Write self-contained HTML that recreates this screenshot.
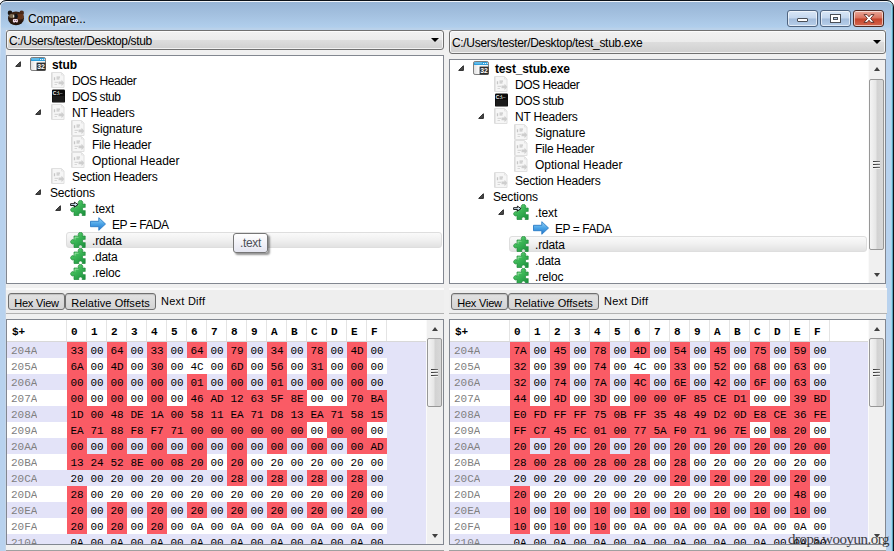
<!DOCTYPE html>
<html lang="en"><head><meta charset="utf-8"><title>Compare...</title>
<style>
html,body{margin:0;padding:0}
*{box-sizing:border-box}
body{width:894px;height:551px;overflow:hidden;background:#fff;font-family:"Liberation Sans",sans-serif;font-size:12px;color:#000}
#win{position:absolute;left:0;top:0;width:894px;height:551px;overflow:hidden}
/* window frame: dark left border is cropped (x=-1), dark right border at x=893 */
#frame{position:absolute;left:-1px;top:0;width:895px;height:600px;border:1px solid #0b1118;border-radius:7px 7px 0 0;
  background:linear-gradient(#97b5d6 1px,#a3c0df 13px,#b0ceec 26px,#bcd2e9 28px,#b8d2ee 29px);
  box-shadow:inset 0 1px 0 rgba(255,255,255,.85),inset -1px 0 0 rgba(70,140,170,.75),inset -2px 0 0 rgba(150,215,235,.9)}
#frame:before{content:"";position:absolute;left:0;top:4px;width:1px;height:60px;background:linear-gradient(rgba(255,255,255,.75),rgba(255,255,255,.45) 50%,rgba(255,255,255,0))}
#frame:after{content:"";position:absolute;left:5px;top:30px;width:1px;height:600px;background:#c4d5e9}
#titlebar{position:absolute;left:0;top:0;width:894px;height:30px}
#bear{position:absolute;left:7px;top:10px}
#title{position:absolute;left:28px;top:12px;font-size:12px;line-height:14px;color:#000;text-shadow:0 0 6px #fff,0 0 6px #fff}
.cb{position:absolute;top:10px;height:17px;border:1px solid #4f6480;border-radius:3px;box-shadow:inset 0 0 0 1px rgba(255,255,255,.6);
  background:linear-gradient(#d9e7f7 0,#c4d7ee 48%,#a3bcdb 52%,#b7cfea 100%)}
.cb.min{left:787px;width:31px}
.cb.max{left:820px;width:31px}
.cb.cls{left:853px;width:31px;border-color:#4b2822;background:linear-gradient(#e9a99b 0,#d9715c 48%,#c4422a 52%,#d4674f 100%)}
.cb.min i{position:absolute;left:9px;top:7px;width:11px;height:4px;background:#fff;border:1px solid #4a4f57;border-radius:1px}
.cb.max i{position:absolute;left:10px;top:4px;width:9px;height:7px;background:transparent;border:2px solid #fff;outline:1px solid #4a4f57;box-shadow:inset 0 0 0 1px #4a4f57}
.cb.cls svg{position:absolute;left:8.5px;top:3px}
/* client: abs (6,30) .. (886,551) */
#client{position:absolute;left:6px;top:30px;width:880px;height:530px;background:#f0f0f0}
.combo{position:absolute;top:0;height:20px;border:1px solid #707070;border-radius:3px;background:linear-gradient(#f2f2f2 0,#ebebeb 50%,#dddddd 51%,#cfcfcf 100%);box-shadow:inset 0 0 0 1px rgba(255,255,255,.7)}
.combo.cl{left:0;width:438px}
.combo.cr{left:443px;width:437px;height:24px}
.ct{position:absolute;left:2px;top:3px;line-height:15px;white-space:nowrap}
.cr .ct{top:5px}
.da{position:absolute;right:4px;top:7px;width:0;height:0;border:4px solid transparent;border-top:4px solid #000;border-bottom:0}
.cr .da{top:9px}
.tree{position:absolute;background:#fff;border:1px solid #828790;overflow:hidden}
.tree.tl{left:0;top:25px;width:438px;height:229px}
.tree.trr{left:443px;top:29px;width:437px;height:225px}
.tr{position:absolute;left:0;width:100%;height:16px}
.tr span{position:absolute;top:0}
.tt{line-height:16px;white-space:nowrap;top:1px !important}
.tt.b{font-weight:bold}
.ic{display:block}
.exw{top:5px !important}
.ex{display:block}
.selbg{position:absolute;top:0;height:16px;right:1px;border:1px solid #dedede;border-radius:3px;background:linear-gradient(#fafafa,#f0f0f0 50%,#e2e2e2)}
.trr .selbg{right:18px}
.tip{position:absolute;left:227px;top:203px;width:35px;height:20px;border:1px solid #767676;border-radius:3px;background:linear-gradient(#fff,#e4e5f0);color:#4d5058;line-height:18px;text-align:center;letter-spacing:-.35px;box-shadow:2px 2px 2px rgba(0,0,0,.42)}
/* scrollbars */
.tvsb,.vsb{position:absolute;width:17px;background:#f0f0f0;border-left:1px solid #fafafa}
.tvsb{left:862px;top:30px;height:223px}
.up,.dn{position:absolute;left:-1px;width:17px;height:17px}
.up{top:0}.dn{bottom:0}
.up:after,.dn:after{content:"";position:absolute;left:6px;width:0;height:0;border:3.5px solid transparent}
.up:after{top:7px;border-bottom:4px solid #404040;border-top:0}
.dn:after{bottom:6px;border-top:4px solid #404040;border-bottom:0}
.thumb{position:absolute;left:0;width:15px;border:1px solid #979797;border-radius:2px;background:linear-gradient(90deg,#f4f4f4 0,#e6e6e6 45%,#d2d2d2 55%,#d8d8d8 100%)}
.thumb i{position:absolute;left:3px;width:7px;height:1.5px;background:linear-gradient(90deg,#333,#777);box-shadow:0 1px 0 #f4f4f4}
.thumb i:nth-child(2){margin-top:3px}.thumb i:nth-child(3){margin-top:6px}.thumb i:nth-child(4){display:none}
.tbar{position:absolute;top:258px;height:26px;width:438px;background:#eeeeee;border-top:2px solid #fbfbfb;border-bottom:1px solid #b2b2b2}
.tb1{left:0}.tb2{left:443px}
.btn{position:absolute;top:3px;height:17px;font-size:11px;border:1px solid #6f6f6f;border-radius:3px;background:linear-gradient(#e2e2e2,#d4d4d4);line-height:17px;padding-top:1px;text-align:center;white-space:nowrap;box-shadow:inset 0 1px 1px rgba(0,0,0,.15)}
.lbl{position:absolute;top:4px;font-size:11px;line-height:15px;white-space:nowrap}
.hexp{position:absolute;top:289px;height:226px;background:#e3e3f8;border:1px solid #828790;overflow:hidden;font-family:"Liberation Mono",monospace;font-size:11px}
.hexp.hl{left:0;width:438px}
.hexp.hrr{left:443px;width:437px}
.hh{position:absolute;left:0;top:0;height:22px;width:100%;background:#fff;border-bottom:1px solid #d8d8d8}
.hh span{position:absolute;top:0;height:21px;line-height:24px;font-weight:bold;border-right:1px solid #e4e4e4}
.hc0{left:0;width:60px;padding-left:5px}
.hc{width:20px;text-align:left;padding-left:4px}
.hlast{left:380px;width:40px}
.hr{position:absolute;left:0;height:16px;width:100%;background:#fff}
.hr.alt{background:#e3e3f8}
.hr span{position:absolute;top:0;height:16px;line-height:18px;overflow:hidden}
.ad{left:4px;color:#808080}
.b{width:20px;text-align:center}
.b.r{background:#fa5b65}
.tail{left:380px;right:0;background:#e3e3f8}
.vsb{right:0;top:0;height:224px}
.hexp .thumb{top:18px;height:69px}
.hexp .thumb i{top:29.500px}
.tvsb .thumb{top:19px;height:171px}
.tvsb .thumb i{top:80.500px}
.botline{position:absolute;top:520px;height:10px;border:1px solid #a0a0a0;background:#fff}
.bl1{left:0;width:438px}.bl2{left:443px;width:437px}
#wm{position:absolute;left:788px;top:529px;font-family:"Liberation Serif",serif;font-size:15px;letter-spacing:-.5px;line-height:20px;color:#1a1a1a;opacity:.85;white-space:nowrap}

</style></head>
<body>
<svg width="0" height="0" style="position:absolute" aria-hidden="true"><defs><linearGradient id="eg" x1="0" y1="0" x2="1" y2="0"><stop offset="0" stop-color="#dedede"/><stop offset=".35" stop-color="#fafafa"/><stop offset="1" stop-color="#f0f0f0"/></linearGradient><linearGradient id="pg" x1="0" y1="0" x2=".8" y2="1"><stop offset="0" stop-color="#93e29a"/><stop offset=".45" stop-color="#3fba59"/><stop offset="1" stop-color="#1f9440"/></linearGradient><linearGradient id="ag" x1="0" y1="0" x2="0" y2="1"><stop offset="0" stop-color="#9ad6f7"/><stop offset=".5" stop-color="#4aa3e6"/><stop offset="1" stop-color="#2576cc"/></linearGradient><radialGradient id="bg1" cx=".5" cy=".35" r=".7"><stop offset="0" stop-color="#4a2e1c"/><stop offset=".6" stop-color="#301b10"/><stop offset="1" stop-color="#170e09"/></radialGradient></defs></svg>
<div id="win">
  <div id="frame"></div>
  <div id="titlebar">
    <svg id="bear" width="18" height="17" viewBox="0 0 18 17">
      <circle cx="3" cy="2.900" r="2.300" fill="#17120f"/><circle cx="14.700" cy="2.900" r="2.300" fill="#4c2a1a"/>
      <ellipse cx="9" cy="8.400" rx="8" ry="6.900" fill="url(#bg1)"/>
      <ellipse cx="4.600" cy="6" rx="2.700" ry="2" fill="#7d6c54"/>
      <ellipse cx="13.200" cy="6.600" rx="3.600" ry="3" fill="#63341b"/>
      <ellipse cx="9" cy="6.300" rx="1.800" ry="2.500" fill="#0e141c"/>
      <ellipse cx="6.700" cy="6.200" rx=".6" ry="1.600" fill="#e8e4d0"/>
      <rect x="5.900" y="9" width="5" height="3.500" rx="1" fill="#f3dfea"/>
      <circle cx="7.600" cy="10.300" r=".5" fill="#503048"/><circle cx="9.400" cy="10.300" r=".5" fill="#503048"/>
      <circle cx="8.600" cy="12.700" r=".7" fill="#20101a"/>
    </svg>
    <span id="title" style="letter-spacing:-0.18px">Compare...</span>
    <div class="cb min"><i></i></div>
    <div class="cb max"><i></i></div>
    <div class="cb cls"><svg width="12" height="9" viewBox="0 0 12 9"><path d="M1 .6h3.100L6 2.800 7.900 .6H11L7.600 4.500 11 8.400H7.900L6 6.200 4.100 8.400H1l3.400-3.900z" fill="#fff" stroke="#5a2a22" stroke-width=".9" stroke-linejoin="round"/></svg></div>
  </div>
  <div id="client">
    <div class="combo cl"><span class="ct" style="letter-spacing:-0.38px">C:/Users/tester/Desktop/stub</span><b class="da"></b></div>
    <div class="combo cr"><span class="ct" style="letter-spacing:-0.32px">C:/Users/tester/Desktop/test_stub.exe</span><b class="da"></b></div>
    <div class="tree tl">
<div class="tr" style="top:0px">
<span class="exw" style="left:8px"><svg class="ex" width="6" height="6" viewBox="0 0 6 6"><path d="M5.400 .700V5.400H.700z" fill="#4c4c4c" stroke="#1c1c1c" stroke-width=".9" stroke-linejoin="round"/></svg></span>
<span class="icw" style="left:23px"><svg class="ic" width="16" height="16" viewBox="0 0 16 16"><rect x=".5" y="1.500" width="15" height="13" rx="1.600" fill="url(#eg)" stroke="#7d7d7d"/><path d="M1 3.500c0-1 .5-1.500 1.500-1.500h11c1 0 1.500.5 1.500 1.500V5H1z" fill="#2f9fdb"/><path d="M2 3h7" stroke="#8fd3f6"/><path d="M10 3.500h1.200M12 3.500h1.200M14 3.500h.8" stroke="#e8f6ff" stroke-width="1.200"/><rect x="6.600" y="6.600" width="9" height="8" fill="#2d2d2d"/><text x="11.100" y="13.200" font-family="Liberation Sans, sans-serif" font-size="7.500" font-weight="bold" fill="#fff" text-anchor="middle" textLength="7.600" lengthAdjust="spacingAndGlyphs">32</text></svg></span>
<span class="tt b" style="left:45px;letter-spacing:-0.11px">stub</span>
</div>
<div class="tr" style="top:16px">
<span class="icw" style="left:43px"><svg class="ic" width="16" height="16" viewBox="0 0 16 16"><path d="M1.500 .5H11.500L14 3V15.500H1.500z" fill="#f6f6f6" stroke="#e0e0e0"/><path d="M2 1v14" stroke="#d6d6d6"/><path d="M11.500 .5V3H14" fill="none" stroke="#e4e4e4"/><path d="M4.500 5.200v3M6.500 5.200h3.500M6.500 6.800h3" stroke="#c6c6c6" stroke-width="1.300"/><path d="M4.500 10.300h3.500M4.500 12.500h2.500" stroke="#d8d8d8" stroke-width="1.200"/><path d="M8.500 9.500h3V7.800l2.800 3.200-2.800 3.200v-1.900h-3z" fill="#cecece"/></svg></span>
<span class="tt" style="left:65px;letter-spacing:-0.44px">DOS Header</span>
</div>
<div class="tr" style="top:32px">
<span class="icw" style="left:43px"><svg class="ic" width="16" height="16" viewBox="0 0 16 16"><rect x="2" y="1.400" width="13" height="13.200" rx="1.200" fill="#0b0b0b"/><rect x="2.600" y="8" width="11.800" height="6" fill="#1c1c1c"/><text x="2.800" y="6.900" font-family="Liberation Sans, sans-serif" font-size="5" font-weight="bold" fill="#f2f2f2">C:\</text><path d="M9.500 5.500h3" stroke="#777" stroke-width=".8"/></svg></span>
<span class="tt" style="left:65px;letter-spacing:-0.43px">DOS stub</span>
</div>
<div class="tr" style="top:48px">
<span class="exw" style="left:28px"><svg class="ex" width="6" height="6" viewBox="0 0 6 6"><path d="M5.400 .700V5.400H.700z" fill="#4c4c4c" stroke="#1c1c1c" stroke-width=".9" stroke-linejoin="round"/></svg></span>
<span class="icw" style="left:43px"><svg class="ic" width="16" height="16" viewBox="0 0 16 16"><path d="M1.500 .5H11.500L14 3V15.500H1.500z" fill="#f6f6f6" stroke="#e0e0e0"/><path d="M2 1v14" stroke="#d6d6d6"/><path d="M11.500 .5V3H14" fill="none" stroke="#e4e4e4"/><path d="M4.500 5.200v3M6.500 5.200h3.500M6.500 6.800h3" stroke="#c6c6c6" stroke-width="1.300"/><path d="M4.500 10.300h3.500M4.500 12.500h2.500" stroke="#d8d8d8" stroke-width="1.200"/><path d="M8.500 9.500h3V7.800l2.800 3.200-2.800 3.200v-1.900h-3z" fill="#cecece"/></svg></span>
<span class="tt" style="left:65px;letter-spacing:-0.19px">NT Headers</span>
</div>
<div class="tr" style="top:64px">
<span class="icw" style="left:63px"><svg class="ic" width="16" height="16" viewBox="0 0 16 16"><path d="M1.500 .5H11.500L14 3V15.500H1.500z" fill="#f6f6f6" stroke="#e0e0e0"/><path d="M2 1v14" stroke="#d6d6d6"/><path d="M11.500 .5V3H14" fill="none" stroke="#e4e4e4"/><path d="M4.500 5.200v3M6.500 5.200h3.500M6.500 6.800h3" stroke="#c6c6c6" stroke-width="1.300"/><path d="M4.500 10.300h3.500M4.500 12.500h2.500" stroke="#d8d8d8" stroke-width="1.200"/><path d="M8.500 9.500h3V7.800l2.800 3.200-2.800 3.200v-1.900h-3z" fill="#cecece"/></svg></span>
<span class="tt" style="left:85px;letter-spacing:-0.11px">Signature</span>
</div>
<div class="tr" style="top:80px">
<span class="icw" style="left:63px"><svg class="ic" width="16" height="16" viewBox="0 0 16 16"><path d="M1.500 .5H11.500L14 3V15.500H1.500z" fill="#f6f6f6" stroke="#e0e0e0"/><path d="M2 1v14" stroke="#d6d6d6"/><path d="M11.500 .5V3H14" fill="none" stroke="#e4e4e4"/><path d="M4.500 5.200v3M6.500 5.200h3.500M6.500 6.800h3" stroke="#c6c6c6" stroke-width="1.300"/><path d="M4.500 10.300h3.500M4.500 12.500h2.500" stroke="#d8d8d8" stroke-width="1.200"/><path d="M8.500 9.500h3V7.800l2.800 3.200-2.800 3.200v-1.900h-3z" fill="#cecece"/></svg></span>
<span class="tt" style="left:85px;letter-spacing:-0.26px">File Header</span>
</div>
<div class="tr" style="top:96px">
<span class="icw" style="left:63px"><svg class="ic" width="16" height="16" viewBox="0 0 16 16"><path d="M1.500 .5H11.500L14 3V15.500H1.500z" fill="#f6f6f6" stroke="#e0e0e0"/><path d="M2 1v14" stroke="#d6d6d6"/><path d="M11.500 .5V3H14" fill="none" stroke="#e4e4e4"/><path d="M4.500 5.200v3M6.500 5.200h3.500M6.500 6.800h3" stroke="#c6c6c6" stroke-width="1.300"/><path d="M4.500 10.300h3.500M4.500 12.500h2.500" stroke="#d8d8d8" stroke-width="1.200"/><path d="M8.500 9.500h3V7.800l2.800 3.200-2.800 3.200v-1.900h-3z" fill="#cecece"/></svg></span>
<span class="tt" style="left:85px;letter-spacing:0.01px">Optional Header</span>
</div>
<div class="tr" style="top:112px">
<span class="icw" style="left:43px"><svg class="ic" width="16" height="16" viewBox="0 0 16 16"><path d="M1.500 .5H11.500L14 3V15.500H1.500z" fill="#f6f6f6" stroke="#e0e0e0"/><path d="M2 1v14" stroke="#d6d6d6"/><path d="M11.500 .5V3H14" fill="none" stroke="#e4e4e4"/><path d="M4.500 5.200v3M6.500 5.200h3.500M6.500 6.800h3" stroke="#c6c6c6" stroke-width="1.300"/><path d="M4.500 10.300h3.500M4.500 12.500h2.500" stroke="#d8d8d8" stroke-width="1.200"/><path d="M8.500 9.500h3V7.800l2.800 3.200-2.800 3.200v-1.900h-3z" fill="#cecece"/></svg></span>
<span class="tt" style="left:65px;letter-spacing:-0.22px">Section Headers</span>
</div>
<div class="tr" style="top:128px">
<span class="exw" style="left:28px"><svg class="ex" width="6" height="6" viewBox="0 0 6 6"><path d="M5.400 .700V5.400H.700z" fill="#4c4c4c" stroke="#1c1c1c" stroke-width=".9" stroke-linejoin="round"/></svg></span>
<span class="tt" style="left:43px;letter-spacing:-0.16px">Sections</span>
</div>
<div class="tr" style="top:144px">
<span class="exw" style="left:48px"><svg class="ex" width="6" height="6" viewBox="0 0 6 6"><path d="M5.400 .700V5.400H.700z" fill="#4c4c4c" stroke="#1c1c1c" stroke-width=".9" stroke-linejoin="round"/></svg></span>
<span class="icw" style="left:63px"><svg class="ic" width="16" height="16" viewBox="0 0 16 16"><path d="M4 4H8.900A2.200 2.200 0 1 1 12.100 4H15.200V7.500A1.800 1.800 0 1 0 15.200 10.500V15.500H12.100A1.800 1.800 0 1 0 8.900 15.500H4V11.500A2.100 2.100 0 1 1 4 8.100Z" fill="url(#pg)" stroke="#1f8a3a" stroke-width=".7"/><path d="M5 5.200h3.500M5 5.200v2.500" stroke="#b5efbb" stroke-width=".8" fill="none" opacity=".8"/><path d="M.6 3.700H4.400V2.100L8 4.600 4.400 7.100V5.500H.6z" fill="#d6eafb" stroke="#050505" stroke-width=".9" stroke-linejoin="miter"/></svg></span>
<span class="tt" style="left:85px;letter-spacing:-0.10px">.text</span>
</div>
<div class="tr" style="top:160px">
<span class="icw" style="left:83px"><svg class="ic" width="16" height="16" viewBox="0 0 16 16"><path d="M.5 5.300H8.800V1.700L15.500 8 8.800 14.300V10.700H.5z" fill="url(#ag)" stroke="#2a7cc6" stroke-width=".9" stroke-linejoin="round"/></svg></span>
<span class="tt" style="left:105px;letter-spacing:-0.55px;word-spacing:0.3px">EP = FADA</span>
</div>
<div class="tr sel" style="top:176px">
<div class="selbg" style="left:59px"></div>
<span class="icw" style="left:63px"><svg class="ic" width="16" height="16" viewBox="0 0 16 16"><path d="M4 4H8.900A2.200 2.200 0 1 1 12.100 4H15.200V7.500A1.800 1.800 0 1 0 15.200 10.500V15.500H12.100A1.800 1.800 0 1 0 8.900 15.500H4V11.500A2.100 2.100 0 1 1 4 8.100Z" fill="url(#pg)" stroke="#1f8a3a" stroke-width=".7"/><path d="M5 5.200h3.500M5 5.200v2.500" stroke="#b5efbb" stroke-width=".8" fill="none" opacity=".8"/></svg></span>
<span class="tt" style="left:85px;letter-spacing:-0.16px">.rdata</span>
</div>
<div class="tr" style="top:192px">
<span class="icw" style="left:63px"><svg class="ic" width="16" height="16" viewBox="0 0 16 16"><path d="M4 4H8.900A2.200 2.200 0 1 1 12.100 4H15.200V7.500A1.800 1.800 0 1 0 15.200 10.500V15.500H12.100A1.800 1.800 0 1 0 8.900 15.500H4V11.500A2.100 2.100 0 1 1 4 8.100Z" fill="url(#pg)" stroke="#1f8a3a" stroke-width=".7"/><path d="M5 5.200h3.500M5 5.200v2.500" stroke="#b5efbb" stroke-width=".8" fill="none" opacity=".8"/></svg></span>
<span class="tt" style="left:85px;letter-spacing:-0.27px">.data</span>
</div>
<div class="tr" style="top:208px">
<span class="icw" style="left:63px"><svg class="ic" width="16" height="16" viewBox="0 0 16 16"><path d="M4 4H8.900A2.200 2.200 0 1 1 12.100 4H15.200V7.500A1.800 1.800 0 1 0 15.200 10.500V15.500H12.100A1.800 1.800 0 1 0 8.900 15.500H4V11.500A2.100 2.100 0 1 1 4 8.100Z" fill="url(#pg)" stroke="#1f8a3a" stroke-width=".7"/><path d="M5 5.200h3.500M5 5.200v2.500" stroke="#b5efbb" stroke-width=".8" fill="none" opacity=".8"/></svg></span>
<span class="tt" style="left:85px;letter-spacing:-0.15px">.reloc</span>
</div>
</div>
    <div class="tree trr">
<div class="tr" style="top:0px">
<span class="exw" style="left:8px"><svg class="ex" width="6" height="6" viewBox="0 0 6 6"><path d="M5.400 .700V5.400H.700z" fill="#4c4c4c" stroke="#1c1c1c" stroke-width=".9" stroke-linejoin="round"/></svg></span>
<span class="icw" style="left:23px"><svg class="ic" width="16" height="16" viewBox="0 0 16 16"><rect x=".5" y="1.500" width="15" height="13" rx="1.600" fill="url(#eg)" stroke="#7d7d7d"/><path d="M1 3.500c0-1 .5-1.500 1.500-1.500h11c1 0 1.500.5 1.500 1.500V5H1z" fill="#2f9fdb"/><path d="M2 3h7" stroke="#8fd3f6"/><path d="M10 3.500h1.200M12 3.500h1.200M14 3.500h.8" stroke="#e8f6ff" stroke-width="1.200"/><rect x="6.600" y="6.600" width="9" height="8" fill="#2d2d2d"/><text x="11.100" y="13.200" font-family="Liberation Sans, sans-serif" font-size="7.500" font-weight="bold" fill="#fff" text-anchor="middle" textLength="7.600" lengthAdjust="spacingAndGlyphs">32</text></svg></span>
<span class="tt b" style="left:45px;letter-spacing:-0.15px">test_stub.exe</span>
</div>
<div class="tr" style="top:16px">
<span class="icw" style="left:43px"><svg class="ic" width="16" height="16" viewBox="0 0 16 16"><path d="M1.500 .5H11.500L14 3V15.500H1.500z" fill="#f6f6f6" stroke="#e0e0e0"/><path d="M2 1v14" stroke="#d6d6d6"/><path d="M11.500 .5V3H14" fill="none" stroke="#e4e4e4"/><path d="M4.500 5.200v3M6.500 5.200h3.500M6.500 6.800h3" stroke="#c6c6c6" stroke-width="1.300"/><path d="M4.500 10.300h3.500M4.500 12.500h2.500" stroke="#d8d8d8" stroke-width="1.200"/><path d="M8.500 9.500h3V7.800l2.800 3.200-2.800 3.200v-1.900h-3z" fill="#cecece"/></svg></span>
<span class="tt" style="left:65px;letter-spacing:-0.44px">DOS Header</span>
</div>
<div class="tr" style="top:32px">
<span class="icw" style="left:43px"><svg class="ic" width="16" height="16" viewBox="0 0 16 16"><rect x="2" y="1.400" width="13" height="13.200" rx="1.200" fill="#0b0b0b"/><rect x="2.600" y="8" width="11.800" height="6" fill="#1c1c1c"/><text x="2.800" y="6.900" font-family="Liberation Sans, sans-serif" font-size="5" font-weight="bold" fill="#f2f2f2">C:\</text><path d="M9.500 5.500h3" stroke="#777" stroke-width=".8"/></svg></span>
<span class="tt" style="left:65px;letter-spacing:-0.43px">DOS stub</span>
</div>
<div class="tr" style="top:48px">
<span class="exw" style="left:28px"><svg class="ex" width="6" height="6" viewBox="0 0 6 6"><path d="M5.400 .700V5.400H.700z" fill="#4c4c4c" stroke="#1c1c1c" stroke-width=".9" stroke-linejoin="round"/></svg></span>
<span class="icw" style="left:43px"><svg class="ic" width="16" height="16" viewBox="0 0 16 16"><path d="M1.500 .5H11.500L14 3V15.500H1.500z" fill="#f6f6f6" stroke="#e0e0e0"/><path d="M2 1v14" stroke="#d6d6d6"/><path d="M11.500 .5V3H14" fill="none" stroke="#e4e4e4"/><path d="M4.500 5.200v3M6.500 5.200h3.500M6.500 6.800h3" stroke="#c6c6c6" stroke-width="1.300"/><path d="M4.500 10.300h3.500M4.500 12.500h2.500" stroke="#d8d8d8" stroke-width="1.200"/><path d="M8.500 9.500h3V7.800l2.800 3.200-2.800 3.200v-1.900h-3z" fill="#cecece"/></svg></span>
<span class="tt" style="left:65px;letter-spacing:-0.19px">NT Headers</span>
</div>
<div class="tr" style="top:64px">
<span class="icw" style="left:63px"><svg class="ic" width="16" height="16" viewBox="0 0 16 16"><path d="M1.500 .5H11.500L14 3V15.500H1.500z" fill="#f6f6f6" stroke="#e0e0e0"/><path d="M2 1v14" stroke="#d6d6d6"/><path d="M11.500 .5V3H14" fill="none" stroke="#e4e4e4"/><path d="M4.500 5.200v3M6.500 5.200h3.500M6.500 6.800h3" stroke="#c6c6c6" stroke-width="1.300"/><path d="M4.500 10.300h3.500M4.500 12.500h2.500" stroke="#d8d8d8" stroke-width="1.200"/><path d="M8.500 9.500h3V7.800l2.800 3.200-2.800 3.200v-1.900h-3z" fill="#cecece"/></svg></span>
<span class="tt" style="left:85px;letter-spacing:-0.11px">Signature</span>
</div>
<div class="tr" style="top:80px">
<span class="icw" style="left:63px"><svg class="ic" width="16" height="16" viewBox="0 0 16 16"><path d="M1.500 .5H11.500L14 3V15.500H1.500z" fill="#f6f6f6" stroke="#e0e0e0"/><path d="M2 1v14" stroke="#d6d6d6"/><path d="M11.500 .5V3H14" fill="none" stroke="#e4e4e4"/><path d="M4.500 5.200v3M6.500 5.200h3.500M6.500 6.800h3" stroke="#c6c6c6" stroke-width="1.300"/><path d="M4.500 10.300h3.500M4.500 12.500h2.500" stroke="#d8d8d8" stroke-width="1.200"/><path d="M8.500 9.500h3V7.800l2.800 3.200-2.800 3.200v-1.900h-3z" fill="#cecece"/></svg></span>
<span class="tt" style="left:85px;letter-spacing:-0.26px">File Header</span>
</div>
<div class="tr" style="top:96px">
<span class="icw" style="left:63px"><svg class="ic" width="16" height="16" viewBox="0 0 16 16"><path d="M1.500 .5H11.500L14 3V15.500H1.500z" fill="#f6f6f6" stroke="#e0e0e0"/><path d="M2 1v14" stroke="#d6d6d6"/><path d="M11.500 .5V3H14" fill="none" stroke="#e4e4e4"/><path d="M4.500 5.200v3M6.500 5.200h3.500M6.500 6.800h3" stroke="#c6c6c6" stroke-width="1.300"/><path d="M4.500 10.300h3.500M4.500 12.500h2.500" stroke="#d8d8d8" stroke-width="1.200"/><path d="M8.500 9.500h3V7.800l2.800 3.200-2.800 3.200v-1.900h-3z" fill="#cecece"/></svg></span>
<span class="tt" style="left:85px;letter-spacing:0.01px">Optional Header</span>
</div>
<div class="tr" style="top:112px">
<span class="icw" style="left:43px"><svg class="ic" width="16" height="16" viewBox="0 0 16 16"><path d="M1.500 .5H11.500L14 3V15.500H1.500z" fill="#f6f6f6" stroke="#e0e0e0"/><path d="M2 1v14" stroke="#d6d6d6"/><path d="M11.500 .5V3H14" fill="none" stroke="#e4e4e4"/><path d="M4.500 5.200v3M6.500 5.200h3.500M6.500 6.800h3" stroke="#c6c6c6" stroke-width="1.300"/><path d="M4.500 10.300h3.500M4.500 12.500h2.500" stroke="#d8d8d8" stroke-width="1.200"/><path d="M8.500 9.500h3V7.800l2.800 3.200-2.800 3.200v-1.900h-3z" fill="#cecece"/></svg></span>
<span class="tt" style="left:65px;letter-spacing:-0.22px">Section Headers</span>
</div>
<div class="tr" style="top:128px">
<span class="exw" style="left:28px"><svg class="ex" width="6" height="6" viewBox="0 0 6 6"><path d="M5.400 .700V5.400H.700z" fill="#4c4c4c" stroke="#1c1c1c" stroke-width=".9" stroke-linejoin="round"/></svg></span>
<span class="tt" style="left:43px;letter-spacing:-0.16px">Sections</span>
</div>
<div class="tr" style="top:144px">
<span class="exw" style="left:48px"><svg class="ex" width="6" height="6" viewBox="0 0 6 6"><path d="M5.400 .700V5.400H.700z" fill="#4c4c4c" stroke="#1c1c1c" stroke-width=".9" stroke-linejoin="round"/></svg></span>
<span class="icw" style="left:63px"><svg class="ic" width="16" height="16" viewBox="0 0 16 16"><path d="M4 4H8.900A2.200 2.200 0 1 1 12.100 4H15.200V7.500A1.800 1.800 0 1 0 15.200 10.500V15.500H12.100A1.800 1.800 0 1 0 8.900 15.500H4V11.500A2.100 2.100 0 1 1 4 8.100Z" fill="url(#pg)" stroke="#1f8a3a" stroke-width=".7"/><path d="M5 5.200h3.500M5 5.200v2.500" stroke="#b5efbb" stroke-width=".8" fill="none" opacity=".8"/><path d="M.6 3.700H4.400V2.100L8 4.600 4.400 7.100V5.500H.6z" fill="#d6eafb" stroke="#050505" stroke-width=".9" stroke-linejoin="miter"/></svg></span>
<span class="tt" style="left:85px;letter-spacing:-0.10px">.text</span>
</div>
<div class="tr" style="top:160px">
<span class="icw" style="left:83px"><svg class="ic" width="16" height="16" viewBox="0 0 16 16"><path d="M.5 5.300H8.800V1.700L15.500 8 8.800 14.300V10.700H.5z" fill="url(#ag)" stroke="#2a7cc6" stroke-width=".9" stroke-linejoin="round"/></svg></span>
<span class="tt" style="left:105px;letter-spacing:-0.55px;word-spacing:0.3px">EP = FADA</span>
</div>
<div class="tr sel" style="top:176px">
<div class="selbg" style="left:59px"></div>
<span class="icw" style="left:63px"><svg class="ic" width="16" height="16" viewBox="0 0 16 16"><path d="M4 4H8.900A2.200 2.200 0 1 1 12.100 4H15.200V7.500A1.800 1.800 0 1 0 15.200 10.500V15.500H12.100A1.800 1.800 0 1 0 8.900 15.500H4V11.500A2.100 2.100 0 1 1 4 8.100Z" fill="url(#pg)" stroke="#1f8a3a" stroke-width=".7"/><path d="M5 5.200h3.500M5 5.200v2.500" stroke="#b5efbb" stroke-width=".8" fill="none" opacity=".8"/></svg></span>
<span class="tt" style="left:85px;letter-spacing:-0.16px">.rdata</span>
</div>
<div class="tr" style="top:192px">
<span class="icw" style="left:63px"><svg class="ic" width="16" height="16" viewBox="0 0 16 16"><path d="M4 4H8.900A2.200 2.200 0 1 1 12.100 4H15.200V7.500A1.800 1.800 0 1 0 15.200 10.500V15.500H12.100A1.800 1.800 0 1 0 8.900 15.500H4V11.500A2.100 2.100 0 1 1 4 8.100Z" fill="url(#pg)" stroke="#1f8a3a" stroke-width=".7"/><path d="M5 5.200h3.500M5 5.200v2.500" stroke="#b5efbb" stroke-width=".8" fill="none" opacity=".8"/></svg></span>
<span class="tt" style="left:85px;letter-spacing:-0.27px">.data</span>
</div>
<div class="tr" style="top:208px">
<span class="icw" style="left:63px"><svg class="ic" width="16" height="16" viewBox="0 0 16 16"><path d="M4 4H8.900A2.200 2.200 0 1 1 12.100 4H15.200V7.500A1.800 1.800 0 1 0 15.200 10.500V15.500H12.100A1.800 1.800 0 1 0 8.900 15.500H4V11.500A2.100 2.100 0 1 1 4 8.100Z" fill="url(#pg)" stroke="#1f8a3a" stroke-width=".7"/><path d="M5 5.200h3.500M5 5.200v2.500" stroke="#b5efbb" stroke-width=".8" fill="none" opacity=".8"/></svg></span>
<span class="tt" style="left:85px;letter-spacing:-0.15px">.reloc</span>
</div>
</div>
    <div class="tip">.text</div>
    <div class="tvsb"><div class="up"></div><div class="thumb"><i></i><i></i><i></i><i></i></div><div class="dn"></div></div>
    <div class="tbar tb1"><span class="btn" style="left:2px;width:57px;letter-spacing:-0.19px">Hex View</span><span class="btn" style="left:59px;width:91px;letter-spacing:0.08px">Relative Offsets</span><span class="lbl" style="left:155px;letter-spacing:0.25px">Next Diff</span></div>
    <div class="tbar tb2"><span class="btn" style="left:2px;width:57px;letter-spacing:-0.19px">Hex View</span><span class="btn" style="left:59px;width:91px;letter-spacing:0.08px">Relative Offsets</span><span class="lbl" style="left:155px;letter-spacing:0.25px">Next Diff</span></div>
    <div class="hexp hl">
<div class="hh">
<span class="hc0">$+</span>
<span class="hc" style="left:60px">0</span>
<span class="hc" style="left:80px">1</span>
<span class="hc" style="left:100px">2</span>
<span class="hc" style="left:120px">3</span>
<span class="hc" style="left:140px">4</span>
<span class="hc" style="left:160px">5</span>
<span class="hc" style="left:180px">6</span>
<span class="hc" style="left:200px">7</span>
<span class="hc" style="left:220px">8</span>
<span class="hc" style="left:240px">9</span>
<span class="hc" style="left:260px">A</span>
<span class="hc" style="left:280px">B</span>
<span class="hc" style="left:300px">C</span>
<span class="hc" style="left:320px">D</span>
<span class="hc" style="left:340px">E</span>
<span class="hc" style="left:360px">F</span>
<span class="hlast"></span>
</div>
<div class="hr alt" style="top:22px"><span class="ad">204A</span>
<span class="b r" style="left:60px">33</span>
<span class="b" style="left:80px">00</span>
<span class="b r" style="left:100px">64</span>
<span class="b" style="left:120px">00</span>
<span class="b r" style="left:140px">33</span>
<span class="b" style="left:160px">00</span>
<span class="b r" style="left:180px">64</span>
<span class="b" style="left:200px">00</span>
<span class="b r" style="left:220px">79</span>
<span class="b" style="left:240px">00</span>
<span class="b r" style="left:260px">34</span>
<span class="b" style="left:280px">00</span>
<span class="b r" style="left:300px">78</span>
<span class="b" style="left:320px">00</span>
<span class="b r" style="left:340px">4D</span>
<span class="b" style="left:360px">00</span>
<span class="tail"></span></div>
<div class="hr" style="top:38px"><span class="ad">205A</span>
<span class="b r" style="left:60px">6A</span>
<span class="b" style="left:80px">00</span>
<span class="b r" style="left:100px">4D</span>
<span class="b" style="left:120px">00</span>
<span class="b r" style="left:140px">30</span>
<span class="b" style="left:160px">00</span>
<span class="b" style="left:180px">4C</span>
<span class="b" style="left:200px">00</span>
<span class="b r" style="left:220px">6D</span>
<span class="b" style="left:240px">00</span>
<span class="b r" style="left:260px">56</span>
<span class="b" style="left:280px">00</span>
<span class="b r" style="left:300px">31</span>
<span class="b" style="left:320px">00</span>
<span class="b r" style="left:340px">00</span>
<span class="b" style="left:360px">00</span>
<span class="tail"></span></div>
<div class="hr alt" style="top:54px"><span class="ad">206A</span>
<span class="b r" style="left:60px">00</span>
<span class="b" style="left:80px">00</span>
<span class="b r" style="left:100px">00</span>
<span class="b" style="left:120px">00</span>
<span class="b r" style="left:140px">00</span>
<span class="b" style="left:160px">00</span>
<span class="b r" style="left:180px">01</span>
<span class="b" style="left:200px">00</span>
<span class="b r" style="left:220px">00</span>
<span class="b" style="left:240px">00</span>
<span class="b r" style="left:260px">01</span>
<span class="b" style="left:280px">00</span>
<span class="b r" style="left:300px">00</span>
<span class="b" style="left:320px">00</span>
<span class="b r" style="left:340px">00</span>
<span class="b" style="left:360px">00</span>
<span class="tail"></span></div>
<div class="hr" style="top:70px"><span class="ad">207A</span>
<span class="b r" style="left:60px">00</span>
<span class="b" style="left:80px">00</span>
<span class="b r" style="left:100px">00</span>
<span class="b" style="left:120px">00</span>
<span class="b r" style="left:140px">00</span>
<span class="b" style="left:160px">00</span>
<span class="b r" style="left:180px">46</span>
<span class="b r" style="left:200px">AD</span>
<span class="b r" style="left:220px">12</span>
<span class="b r" style="left:240px">63</span>
<span class="b r" style="left:260px">5F</span>
<span class="b r" style="left:280px">8E</span>
<span class="b" style="left:300px">00</span>
<span class="b" style="left:320px">00</span>
<span class="b r" style="left:340px">70</span>
<span class="b r" style="left:360px">BA</span>
<span class="tail"></span></div>
<div class="hr alt" style="top:86px"><span class="ad">208A</span>
<span class="b r" style="left:60px">1D</span>
<span class="b r" style="left:80px">00</span>
<span class="b r" style="left:100px">48</span>
<span class="b r" style="left:120px">DE</span>
<span class="b r" style="left:140px">1A</span>
<span class="b r" style="left:160px">00</span>
<span class="b r" style="left:180px">58</span>
<span class="b r" style="left:200px">11</span>
<span class="b r" style="left:220px">EA</span>
<span class="b r" style="left:240px">71</span>
<span class="b r" style="left:260px">D8</span>
<span class="b r" style="left:280px">13</span>
<span class="b r" style="left:300px">EA</span>
<span class="b r" style="left:320px">71</span>
<span class="b r" style="left:340px">58</span>
<span class="b r" style="left:360px">15</span>
<span class="tail"></span></div>
<div class="hr" style="top:102px"><span class="ad">209A</span>
<span class="b r" style="left:60px">EA</span>
<span class="b r" style="left:80px">71</span>
<span class="b r" style="left:100px">88</span>
<span class="b r" style="left:120px">F8</span>
<span class="b r" style="left:140px">F7</span>
<span class="b r" style="left:160px">71</span>
<span class="b r" style="left:180px">00</span>
<span class="b r" style="left:200px">00</span>
<span class="b r" style="left:220px">00</span>
<span class="b r" style="left:240px">00</span>
<span class="b r" style="left:260px">00</span>
<span class="b r" style="left:280px">00</span>
<span class="b" style="left:300px">00</span>
<span class="b r" style="left:320px">00</span>
<span class="b r" style="left:340px">00</span>
<span class="b" style="left:360px">00</span>
<span class="tail"></span></div>
<div class="hr alt" style="top:118px"><span class="ad">20AA</span>
<span class="b r" style="left:60px">00</span>
<span class="b" style="left:80px">00</span>
<span class="b r" style="left:100px">00</span>
<span class="b" style="left:120px">00</span>
<span class="b r" style="left:140px">00</span>
<span class="b" style="left:160px">00</span>
<span class="b r" style="left:180px">00</span>
<span class="b" style="left:200px">00</span>
<span class="b r" style="left:220px">00</span>
<span class="b" style="left:240px">00</span>
<span class="b r" style="left:260px">00</span>
<span class="b" style="left:280px">00</span>
<span class="b r" style="left:300px">00</span>
<span class="b" style="left:320px">00</span>
<span class="b r" style="left:340px">00</span>
<span class="b r" style="left:360px">AD</span>
<span class="tail"></span></div>
<div class="hr" style="top:134px"><span class="ad">20BA</span>
<span class="b r" style="left:60px">13</span>
<span class="b r" style="left:80px">24</span>
<span class="b r" style="left:100px">52</span>
<span class="b r" style="left:120px">8E</span>
<span class="b r" style="left:140px">00</span>
<span class="b r" style="left:160px">08</span>
<span class="b r" style="left:180px">20</span>
<span class="b" style="left:200px">00</span>
<span class="b r" style="left:220px">20</span>
<span class="b" style="left:240px">00</span>
<span class="b" style="left:260px">20</span>
<span class="b" style="left:280px">00</span>
<span class="b" style="left:300px">20</span>
<span class="b" style="left:320px">00</span>
<span class="b" style="left:340px">20</span>
<span class="b" style="left:360px">00</span>
<span class="tail"></span></div>
<div class="hr alt" style="top:150px"><span class="ad">20CA</span>
<span class="b" style="left:60px">20</span>
<span class="b" style="left:80px">00</span>
<span class="b" style="left:100px">20</span>
<span class="b" style="left:120px">00</span>
<span class="b" style="left:140px">20</span>
<span class="b" style="left:160px">00</span>
<span class="b" style="left:180px">20</span>
<span class="b" style="left:200px">00</span>
<span class="b r" style="left:220px">28</span>
<span class="b" style="left:240px">00</span>
<span class="b r" style="left:260px">28</span>
<span class="b" style="left:280px">00</span>
<span class="b r" style="left:300px">28</span>
<span class="b" style="left:320px">00</span>
<span class="b r" style="left:340px">28</span>
<span class="b" style="left:360px">00</span>
<span class="tail"></span></div>
<div class="hr" style="top:166px"><span class="ad">20DA</span>
<span class="b r" style="left:60px">28</span>
<span class="b" style="left:80px">00</span>
<span class="b" style="left:100px">20</span>
<span class="b" style="left:120px">00</span>
<span class="b" style="left:140px">20</span>
<span class="b" style="left:160px">00</span>
<span class="b" style="left:180px">20</span>
<span class="b" style="left:200px">00</span>
<span class="b" style="left:220px">20</span>
<span class="b" style="left:240px">00</span>
<span class="b" style="left:260px">20</span>
<span class="b" style="left:280px">00</span>
<span class="b" style="left:300px">20</span>
<span class="b" style="left:320px">00</span>
<span class="b r" style="left:340px">20</span>
<span class="b" style="left:360px">00</span>
<span class="tail"></span></div>
<div class="hr alt" style="top:182px"><span class="ad">20EA</span>
<span class="b r" style="left:60px">20</span>
<span class="b" style="left:80px">00</span>
<span class="b r" style="left:100px">20</span>
<span class="b" style="left:120px">00</span>
<span class="b r" style="left:140px">20</span>
<span class="b" style="left:160px">00</span>
<span class="b r" style="left:180px">20</span>
<span class="b" style="left:200px">00</span>
<span class="b r" style="left:220px">20</span>
<span class="b" style="left:240px">00</span>
<span class="b r" style="left:260px">20</span>
<span class="b" style="left:280px">00</span>
<span class="b r" style="left:300px">20</span>
<span class="b" style="left:320px">00</span>
<span class="b r" style="left:340px">20</span>
<span class="b" style="left:360px">00</span>
<span class="tail"></span></div>
<div class="hr" style="top:198px"><span class="ad">20FA</span>
<span class="b r" style="left:60px">20</span>
<span class="b" style="left:80px">00</span>
<span class="b r" style="left:100px">20</span>
<span class="b" style="left:120px">00</span>
<span class="b r" style="left:140px">20</span>
<span class="b" style="left:160px">00</span>
<span class="b" style="left:180px">0A</span>
<span class="b" style="left:200px">00</span>
<span class="b" style="left:220px">0A</span>
<span class="b" style="left:240px">00</span>
<span class="b" style="left:260px">0A</span>
<span class="b" style="left:280px">00</span>
<span class="b" style="left:300px">0A</span>
<span class="b" style="left:320px">00</span>
<span class="b" style="left:340px">0A</span>
<span class="b" style="left:360px">00</span>
<span class="tail"></span></div>
<div class="hr alt" style="top:214px"><span class="ad">210A</span>
<span class="b" style="left:60px">0A</span>
<span class="b" style="left:80px">00</span>
<span class="b" style="left:100px">0A</span>
<span class="b" style="left:120px">00</span>
<span class="b" style="left:140px">0A</span>
<span class="b" style="left:160px">00</span>
<span class="b" style="left:180px">0A</span>
<span class="b" style="left:200px">00</span>
<span class="b" style="left:220px">0A</span>
<span class="b" style="left:240px">00</span>
<span class="b" style="left:260px">0A</span>
<span class="b" style="left:280px">00</span>
<span class="b" style="left:300px">0A</span>
<span class="b" style="left:320px">00</span>
<span class="b" style="left:340px">0A</span>
<span class="b" style="left:360px">00</span>
<span class="tail"></span></div>
<div class="vsb"><div class="up"></div><div class="thumb"><i></i><i></i><i></i><i></i></div><div class="dn"></div></div>
</div>
    <div class="hexp hrr">
<div class="hh">
<span class="hc0">$+</span>
<span class="hc" style="left:60px">0</span>
<span class="hc" style="left:80px">1</span>
<span class="hc" style="left:100px">2</span>
<span class="hc" style="left:120px">3</span>
<span class="hc" style="left:140px">4</span>
<span class="hc" style="left:160px">5</span>
<span class="hc" style="left:180px">6</span>
<span class="hc" style="left:200px">7</span>
<span class="hc" style="left:220px">8</span>
<span class="hc" style="left:240px">9</span>
<span class="hc" style="left:260px">A</span>
<span class="hc" style="left:280px">B</span>
<span class="hc" style="left:300px">C</span>
<span class="hc" style="left:320px">D</span>
<span class="hc" style="left:340px">E</span>
<span class="hc" style="left:360px">F</span>
<span class="hlast"></span>
</div>
<div class="hr alt" style="top:22px"><span class="ad">204A</span>
<span class="b r" style="left:60px">7A</span>
<span class="b" style="left:80px">00</span>
<span class="b r" style="left:100px">45</span>
<span class="b" style="left:120px">00</span>
<span class="b r" style="left:140px">78</span>
<span class="b" style="left:160px">00</span>
<span class="b r" style="left:180px">4D</span>
<span class="b" style="left:200px">00</span>
<span class="b r" style="left:220px">54</span>
<span class="b" style="left:240px">00</span>
<span class="b r" style="left:260px">45</span>
<span class="b" style="left:280px">00</span>
<span class="b r" style="left:300px">75</span>
<span class="b" style="left:320px">00</span>
<span class="b r" style="left:340px">59</span>
<span class="b" style="left:360px">00</span>
<span class="tail"></span></div>
<div class="hr" style="top:38px"><span class="ad">205A</span>
<span class="b r" style="left:60px">32</span>
<span class="b" style="left:80px">00</span>
<span class="b r" style="left:100px">39</span>
<span class="b" style="left:120px">00</span>
<span class="b r" style="left:140px">74</span>
<span class="b" style="left:160px">00</span>
<span class="b" style="left:180px">4C</span>
<span class="b" style="left:200px">00</span>
<span class="b r" style="left:220px">33</span>
<span class="b" style="left:240px">00</span>
<span class="b r" style="left:260px">52</span>
<span class="b" style="left:280px">00</span>
<span class="b r" style="left:300px">68</span>
<span class="b" style="left:320px">00</span>
<span class="b r" style="left:340px">63</span>
<span class="b" style="left:360px">00</span>
<span class="tail"></span></div>
<div class="hr alt" style="top:54px"><span class="ad">206A</span>
<span class="b r" style="left:60px">32</span>
<span class="b" style="left:80px">00</span>
<span class="b r" style="left:100px">74</span>
<span class="b" style="left:120px">00</span>
<span class="b r" style="left:140px">7A</span>
<span class="b" style="left:160px">00</span>
<span class="b r" style="left:180px">4C</span>
<span class="b" style="left:200px">00</span>
<span class="b r" style="left:220px">6E</span>
<span class="b" style="left:240px">00</span>
<span class="b r" style="left:260px">42</span>
<span class="b" style="left:280px">00</span>
<span class="b r" style="left:300px">6F</span>
<span class="b" style="left:320px">00</span>
<span class="b r" style="left:340px">63</span>
<span class="b" style="left:360px">00</span>
<span class="tail"></span></div>
<div class="hr" style="top:70px"><span class="ad">207A</span>
<span class="b r" style="left:60px">44</span>
<span class="b" style="left:80px">00</span>
<span class="b r" style="left:100px">4D</span>
<span class="b" style="left:120px">00</span>
<span class="b r" style="left:140px">3D</span>
<span class="b" style="left:160px">00</span>
<span class="b r" style="left:180px">00</span>
<span class="b r" style="left:200px">00</span>
<span class="b r" style="left:220px">0F</span>
<span class="b r" style="left:240px">85</span>
<span class="b r" style="left:260px">CE</span>
<span class="b r" style="left:280px">D1</span>
<span class="b" style="left:300px">00</span>
<span class="b" style="left:320px">00</span>
<span class="b r" style="left:340px">39</span>
<span class="b r" style="left:360px">BD</span>
<span class="tail"></span></div>
<div class="hr alt" style="top:86px"><span class="ad">208A</span>
<span class="b r" style="left:60px">E0</span>
<span class="b r" style="left:80px">FD</span>
<span class="b r" style="left:100px">FF</span>
<span class="b r" style="left:120px">FF</span>
<span class="b r" style="left:140px">75</span>
<span class="b r" style="left:160px">0B</span>
<span class="b r" style="left:180px">FF</span>
<span class="b r" style="left:200px">35</span>
<span class="b r" style="left:220px">48</span>
<span class="b r" style="left:240px">49</span>
<span class="b r" style="left:260px">D2</span>
<span class="b r" style="left:280px">0D</span>
<span class="b r" style="left:300px">E8</span>
<span class="b r" style="left:320px">CE</span>
<span class="b r" style="left:340px">36</span>
<span class="b r" style="left:360px">FE</span>
<span class="tail"></span></div>
<div class="hr" style="top:102px"><span class="ad">209A</span>
<span class="b r" style="left:60px">FF</span>
<span class="b r" style="left:80px">C7</span>
<span class="b r" style="left:100px">45</span>
<span class="b r" style="left:120px">FC</span>
<span class="b r" style="left:140px">01</span>
<span class="b r" style="left:160px">00</span>
<span class="b r" style="left:180px">77</span>
<span class="b r" style="left:200px">5A</span>
<span class="b r" style="left:220px">F0</span>
<span class="b r" style="left:240px">71</span>
<span class="b r" style="left:260px">96</span>
<span class="b r" style="left:280px">7E</span>
<span class="b" style="left:300px">00</span>
<span class="b r" style="left:320px">08</span>
<span class="b r" style="left:340px">20</span>
<span class="b" style="left:360px">00</span>
<span class="tail"></span></div>
<div class="hr alt" style="top:118px"><span class="ad">20AA</span>
<span class="b r" style="left:60px">20</span>
<span class="b" style="left:80px">00</span>
<span class="b r" style="left:100px">20</span>
<span class="b" style="left:120px">00</span>
<span class="b r" style="left:140px">20</span>
<span class="b" style="left:160px">00</span>
<span class="b r" style="left:180px">20</span>
<span class="b" style="left:200px">00</span>
<span class="b r" style="left:220px">20</span>
<span class="b" style="left:240px">00</span>
<span class="b r" style="left:260px">20</span>
<span class="b" style="left:280px">00</span>
<span class="b r" style="left:300px">20</span>
<span class="b" style="left:320px">00</span>
<span class="b r" style="left:340px">20</span>
<span class="b r" style="left:360px">00</span>
<span class="tail"></span></div>
<div class="hr" style="top:134px"><span class="ad">20BA</span>
<span class="b r" style="left:60px">28</span>
<span class="b r" style="left:80px">00</span>
<span class="b r" style="left:100px">28</span>
<span class="b r" style="left:120px">00</span>
<span class="b r" style="left:140px">28</span>
<span class="b r" style="left:160px">00</span>
<span class="b r" style="left:180px">28</span>
<span class="b" style="left:200px">00</span>
<span class="b r" style="left:220px">28</span>
<span class="b" style="left:240px">00</span>
<span class="b" style="left:260px">20</span>
<span class="b" style="left:280px">00</span>
<span class="b" style="left:300px">20</span>
<span class="b" style="left:320px">00</span>
<span class="b" style="left:340px">20</span>
<span class="b" style="left:360px">00</span>
<span class="tail"></span></div>
<div class="hr alt" style="top:150px"><span class="ad">20CA</span>
<span class="b" style="left:60px">20</span>
<span class="b" style="left:80px">00</span>
<span class="b" style="left:100px">20</span>
<span class="b" style="left:120px">00</span>
<span class="b" style="left:140px">20</span>
<span class="b" style="left:160px">00</span>
<span class="b" style="left:180px">20</span>
<span class="b" style="left:200px">00</span>
<span class="b r" style="left:220px">20</span>
<span class="b" style="left:240px">00</span>
<span class="b r" style="left:260px">20</span>
<span class="b" style="left:280px">00</span>
<span class="b r" style="left:300px">20</span>
<span class="b" style="left:320px">00</span>
<span class="b r" style="left:340px">20</span>
<span class="b" style="left:360px">00</span>
<span class="tail"></span></div>
<div class="hr" style="top:166px"><span class="ad">20DA</span>
<span class="b r" style="left:60px">20</span>
<span class="b" style="left:80px">00</span>
<span class="b" style="left:100px">20</span>
<span class="b" style="left:120px">00</span>
<span class="b" style="left:140px">20</span>
<span class="b" style="left:160px">00</span>
<span class="b" style="left:180px">20</span>
<span class="b" style="left:200px">00</span>
<span class="b" style="left:220px">20</span>
<span class="b" style="left:240px">00</span>
<span class="b" style="left:260px">20</span>
<span class="b" style="left:280px">00</span>
<span class="b" style="left:300px">20</span>
<span class="b" style="left:320px">00</span>
<span class="b r" style="left:340px">48</span>
<span class="b" style="left:360px">00</span>
<span class="tail"></span></div>
<div class="hr alt" style="top:182px"><span class="ad">20EA</span>
<span class="b r" style="left:60px">10</span>
<span class="b" style="left:80px">00</span>
<span class="b r" style="left:100px">10</span>
<span class="b" style="left:120px">00</span>
<span class="b r" style="left:140px">10</span>
<span class="b" style="left:160px">00</span>
<span class="b r" style="left:180px">10</span>
<span class="b" style="left:200px">00</span>
<span class="b r" style="left:220px">10</span>
<span class="b" style="left:240px">00</span>
<span class="b r" style="left:260px">10</span>
<span class="b" style="left:280px">00</span>
<span class="b r" style="left:300px">10</span>
<span class="b" style="left:320px">00</span>
<span class="b r" style="left:340px">10</span>
<span class="b" style="left:360px">00</span>
<span class="tail"></span></div>
<div class="hr" style="top:198px"><span class="ad">20FA</span>
<span class="b r" style="left:60px">10</span>
<span class="b" style="left:80px">00</span>
<span class="b r" style="left:100px">10</span>
<span class="b" style="left:120px">00</span>
<span class="b r" style="left:140px">10</span>
<span class="b" style="left:160px">00</span>
<span class="b" style="left:180px">0A</span>
<span class="b" style="left:200px">00</span>
<span class="b" style="left:220px">0A</span>
<span class="b" style="left:240px">00</span>
<span class="b" style="left:260px">0A</span>
<span class="b" style="left:280px">00</span>
<span class="b" style="left:300px">0A</span>
<span class="b" style="left:320px">00</span>
<span class="b" style="left:340px">0A</span>
<span class="b" style="left:360px">00</span>
<span class="tail"></span></div>
<div class="hr alt" style="top:214px"><span class="ad">210A</span>
<span class="b" style="left:60px">0A</span>
<span class="b" style="left:80px">00</span>
<span class="b" style="left:100px">0A</span>
<span class="b" style="left:120px">00</span>
<span class="b" style="left:140px">0A</span>
<span class="b" style="left:160px">00</span>
<span class="b" style="left:180px">0A</span>
<span class="b" style="left:200px">00</span>
<span class="b" style="left:220px">0A</span>
<span class="b" style="left:240px">00</span>
<span class="b" style="left:260px">0A</span>
<span class="b" style="left:280px">00</span>
<span class="b" style="left:300px">0A</span>
<span class="b" style="left:320px">00</span>
<span class="b" style="left:340px">0A</span>
<span class="b" style="left:360px">00</span>
<span class="tail"></span></div>
<div class="vsb"><div class="up"></div><div class="thumb"><i></i><i></i><i></i><i></i></div><div class="dn"></div></div>
</div>
    <div class="botline bl1"></div><div class="botline bl2"></div>
  </div>
  <div id="wm">drops.wooyun.org</div>
</div>
</body></html>
